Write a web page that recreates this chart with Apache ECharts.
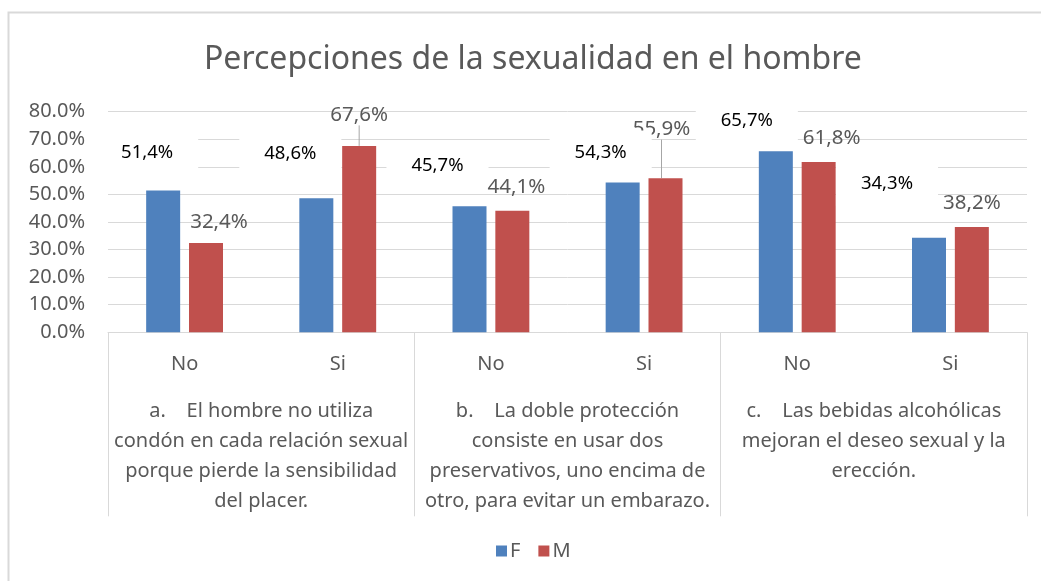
<!DOCTYPE html>
<html>
<head>
<meta charset="utf-8">
<script src="https://cdn.jsdelivr.net/npm/echarts@6/dist/echarts.min.js"></script>
<style>
  html, body { margin: 0; padding: 0; background: #fff; }
  #main { width: 1041px; height: 581px; }
</style>
</head>
<body>
<div id="main"></div>
<script type="text/javascript">
  // datos (porcentajes)
  var answers = ['No', 'Si', 'No', 'Si', 'No', 'Si'];
  var statements = [
    'a.    El hombre no utiliza\ncondón en cada relación sexual\nporque pierde la sensibilidad\ndel placer.',
    'b.    La doble protección\nconsiste en usar dos\npreservativos, uno encima de\notro, para evitar un embarazo.',
    'c.    Las bebidas alcohólicas\nmejoran el deseo sexual y la\nerección.'
  ];
  var valuesF = [51.4, 48.6, 45.7, 54.3, 65.7, 34.3];
  var valuesM = [32.4, 67.6, 44.1, 55.9, 61.8, 38.2];
  var yTicks = [0, 10, 20, 30, 40, 50, 60, 70, 80];

  // desplazamiento de las etiquetas (como en el gráfico original)
  var shiftF = [[-16, -16], [-26, -23], [-32, -19], [-22, -8], [-29, -8], [-42, -32]];
  var shiftM = [[13, -11], [0, -21], [4, -14], [-4, -39], [13, -14], [0, -14]];
  var withLine = [false, true, false, true, false, false];

  var grey = '#595959';
  var gridGrey = '#d9d9d9';
  var font = 'Noto Sans';

  function pct(v) {
    return v.toFixed(1).replace('.', ',') + '%';
  }

  var myChart = echarts.init(document.getElementById('main'));

  var option = {
    animation: false,
    textStyle: { fontFamily: font },
    graphic: [{
      type: 'rect',
      silent: true,
      z: -10,
      shape: { x: 8.5, y: 12.5, width: 1100, height: 700 },
      style: { fill: 'none', stroke: gridGrey, lineWidth: 2 }
    }],
    title: {
      text: 'Percepciones de la sexualidad en el hombre',
      left: 199,
      top: 39,
      textStyle: { fontFamily: font, fontSize: 32, fontWeight: 'normal', color: grey }
    },
    legend: {
      data: ['F', 'M'],
      bottom: 15,
      left: 491,
      icon: 'rect',
      itemWidth: 11,
      itemHeight: 11,
      itemGap: 18,
      textStyle: { fontFamily: font, fontSize: 20, color: grey, padding: [0, 0, 0, -2] }
    },
    grid: { left: 108, right: 14, top: 111.7, bottom: 248.7, containLabel: false },
    xAxis: [{
      type: 'category',
      data: answers,
      position: 'bottom',
      axisLine: { lineStyle: { color: gridGrey, width: 1 } },
      axisTick: { show: false },
      axisLabel: { interval: 0, margin: 22, fontFamily: font, fontSize: 20, color: grey }
    }, {
      type: 'category',
      data: statements,
      position: 'bottom',
      axisLine: { show: false },
      axisTick: { show: true, interval: 0, length: 184, lineStyle: { color: gridGrey, width: 1 } },
      axisLabel: { interval: 0, margin: 64, fontFamily: font, fontSize: 20, lineHeight: 30, color: grey, align: 'center' }
    }],
    yAxis: {
      type: 'value',
      min: yTicks[0],
      max: yTicks[yTicks.length - 1],
      interval: yTicks[1] - yTicks[0],
      axisLine: { show: false },
      axisTick: { show: false },
      splitLine: { lineStyle: { color: gridGrey, width: 1 } },
      axisLabel: {
        margin: 23,
        fontFamily: font,
        fontSize: 20,
        color: grey,
        formatter: function (v) { return v.toFixed(1) + '%'; }
      }
    },
    series: [{
      name: 'F',
      type: 'bar',
      xAxisIndex: 0,
      z: 3,
      barWidth: 34,
      barGap: '26%',
      itemStyle: { color: '#4f81bd' },
      data: valuesF,
      label: {
        show: true,
        position: 'top',
        distance: 0,
        fontFamily: font,
        fontSize: 18.5,
        lineHeight: 20,
        color: '#000',
        backgroundColor: '#fff',
        padding: [12, 25],
        formatter: function (p) { return pct(p.value); }
      },
      labelLayout: function (p) {
        return { dx: shiftF[p.dataIndex][0], dy: shiftF[p.dataIndex][1] };
      }
    }, {
      name: 'M',
      type: 'bar',
      xAxisIndex: 0,
      z: 2,
      barWidth: 34,
      itemStyle: { color: '#c0504d' },
      data: valuesM.map(function (v, i) {
        return { value: v, labelLine: { show: withLine[i] } };
      }),
      label: {
        show: true,
        position: 'top',
        distance: 0,
        fontFamily: font,
        fontSize: 20.5,
        lineHeight: 20,
        color: grey,
        formatter: function (p) { return pct(p.value); }
      },
      labelLine: { show: false, lineStyle: { color: '#a6a6a6', width: 1 } },
      labelLayout: function (p) {
        return { dx: shiftM[p.dataIndex][0], dy: shiftM[p.dataIndex][1] };
      }
    }]
  };

  myChart.setOption(option);
</script>
</body>
</html>
